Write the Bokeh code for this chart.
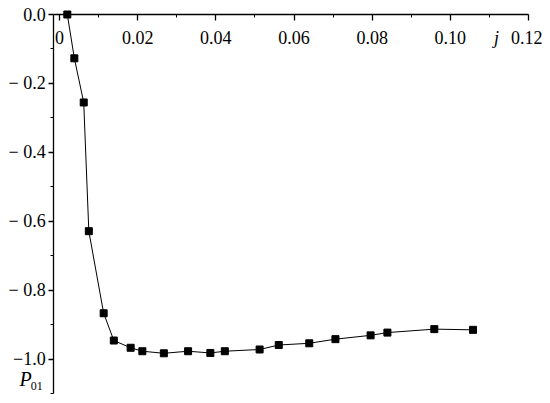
from bokeh.plotting import figure
from bokeh.models import LinearAxis, FixedTicker, Range1d, Label
from bokeh.embed import file_html
from bokeh.resources import INLINE

j = [0.0020, 0.0038, 0.0062, 0.0075, 0.0113, 0.0139, 0.0182, 0.0212, 0.0267,
     0.0329, 0.0386, 0.0423, 0.0512, 0.0561, 0.0639, 0.0706, 0.0796, 0.0839,
     0.0959, 0.1058]
p01 = [0.000, -0.127, -0.255, -0.628, -0.866, -0.945, -0.966, -0.976, -0.982,
       -0.976, -0.981, -0.976, -0.971, -0.958, -0.953, -0.941, -0.930, -0.922,
       -0.912, -0.914]

x_ticks = [0.0, 0.02, 0.04, 0.06, 0.08, 0.10, 0.12]
x_tick_labels = ["0", "0.02", "0.04", "0.06", "0.08", "0.10", "0.12"]
x_minor = [0.01, 0.03, 0.05, 0.07, 0.09, 0.11]
y_ticks = [0.0, -0.2, -0.4, -0.6, -0.8, -1.0]
y_tick_labels = ["0.0", "\u2212 0.2", "\u2212 0.4", "\u2212 0.6", "\u2212 0.8", "\u22121.0"]
y_minor = [-0.1, -0.3, -0.5, -0.7, -0.9, -1.1]

FONT = "Liberation Serif"

p = figure(width=542, height=395, output_backend="svg", toolbar_location=None,
           x_range=Range1d(-0.015096, 0.12358), y_range=Range1d(-1.10435, 0.04058),
           x_axis_location=None, y_axis_location=None,
           min_border_left=0, min_border_right=0, min_border_top=0, min_border_bottom=0)
p.outline_line_color = None
p.grid.visible = False
p.background_fill_color = "white"
p.border_fill_color = "white"

xa = LinearAxis(ticker=FixedTicker(ticks=x_ticks, minor_ticks=x_minor),
                major_label_overrides={t: l for t, l in zip(x_ticks, x_tick_labels)},
                fixed_location=0.0, bounds=(-0.0015, 0.12))
xa.major_tick_in = 6
xa.major_tick_out = 0
xa.minor_tick_in = 3
xa.minor_tick_out = 0
xa.major_label_standoff = -29
xa.major_label_text_font = FONT
xa.major_label_text_font_size = "18px"
xa.major_label_text_color = "black"
xa.axis_line_color = "black"
xa.axis_line_width = 1.3
xa.major_tick_line_width = 1.3
xa.major_tick_line_color = "black"
xa.minor_tick_line_color = "black"
p.add_layout(xa, "above")

ya = LinearAxis(ticker=FixedTicker(ticks=y_ticks, minor_ticks=y_minor),
                major_label_overrides={t: l for t, l in zip(y_ticks, y_tick_labels)},
                fixed_location=-0.0015, bounds=(-1.1, 0.0))
ya.major_tick_in = 0
ya.major_tick_out = 5
ya.minor_tick_in = 0
ya.minor_tick_out = 3
ya.major_label_standoff = 3
ya.major_label_text_font = FONT
ya.major_label_text_font_size = "18px"
ya.major_label_text_color = "black"
ya.axis_line_color = "black"
ya.axis_line_width = 1.3
ya.major_tick_line_width = 1.3
ya.major_tick_line_color = "black"
ya.minor_tick_line_color = "black"
p.add_layout(ya, "left")

p.line(j, p01, line_color="black", line_width=1)
p.scatter(j, p01, marker="square", size=7, fill_color="black", line_color="black")

p.add_layout(Label(x=0.1118, y=-0.0667, text="j", text_font=FONT, text_font_style="italic",
                   text_font_size="18px", text_color="black",
                   text_baseline="middle", text_align="center"))
p.add_layout(Label(x=-0.0087, y=-1.0565, text="P", text_font=FONT, text_font_style="italic",
                   text_font_size="20px", text_color="black",
                   text_baseline="middle", text_align="center"))
p.add_layout(Label(x=-0.0058, y=-1.0768, text="01", text_font=FONT,
                   text_font_size="12px", text_color="black",
                   text_baseline="middle", text_align="center"))

open("out.html", "w").write(file_html(p, INLINE))
